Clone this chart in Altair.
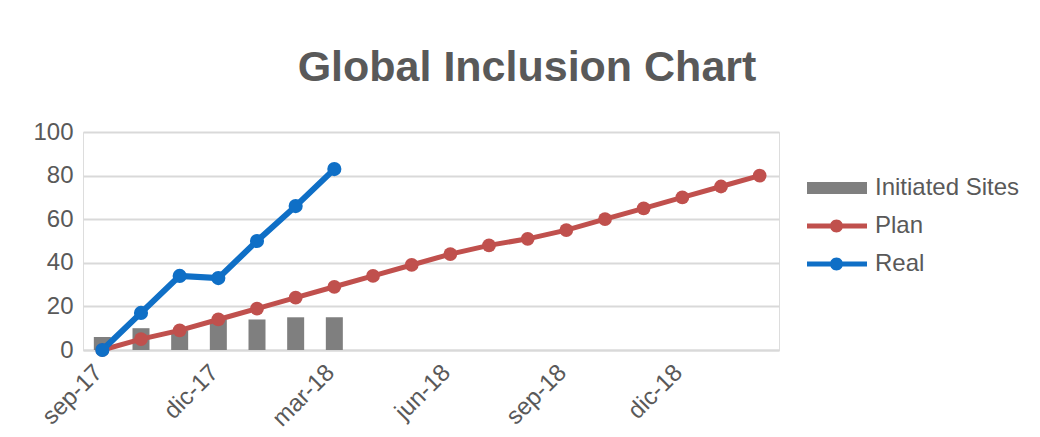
import altair as alt
import pandas as pd

months = ["sep-17", "oct-17", "nov-17", "dic-17", "ene-18", "feb-18", "mar-18",
          "abr-18", "may-18", "jun-18", "jul-18", "ago-18", "sep-18", "oct-18",
          "nov-18", "dic-18", "ene-19", "feb-19"]
plan = [0, 5, 9, 14, 19, 24, 29, 34, 39, 44, 48, 51, 55, 60, 65, 70, 75, 80]
real = [0, 17, 34, 33, 50, 66, 83]
sites = [6, 10, 9, 14, 14, 15, 15]
shown_labels = ["sep-17", "dic-17", "mar-18", "jun-18", "sep-18", "dic-18"]
series = ["Initiated Sites", "Plan", "Real"]
colors = ["#7f7f7f", "#c0504d", "#0f6fc6"]

rows = []
for i, m in enumerate(months):
    rows.append({"month": m, "series": "Plan", "value": plan[i]})
for i, v in enumerate(real):
    rows.append({"month": months[i], "series": "Real", "value": v})
for i, v in enumerate(sites):
    rows.append({"month": months[i], "series": "Initiated Sites", "value": v})
df = pd.DataFrame(rows)

label_expr = "indexof(" + str(shown_labels) + ", datum.value) >= 0 ? datum.value : ''"

x_enc = alt.X("month:N", sort=months, scale=alt.Scale(domain=months, paddingInner=0, paddingOuter=0),
              axis=alt.Axis(title=None, labelAngle=-45, labelExpr=label_expr, ticks=False,
                            labelAlign="right", labelBaseline="top", labelOffset=-12,
                            domain=True, domainColor="#d9d9d9", domainWidth=2,
                            labelFontSize=24, labelColor="#595959", labelPadding=10,
                            labelFont="Liberation Sans"))
y_enc = alt.Y("value:Q", scale=alt.Scale(domain=[0, 100]),
              axis=alt.Axis(title=None, values=[0, 20, 40, 60, 80, 100], domain=False, ticks=False,
                            gridColor="#d9d9d9", gridWidth=2, labelFontSize=24,
                            labelColor="#595959", labelPadding=10, labelFont="Liberation Sans"))

bar_shape = "M-5,-0.6H1V0.6H-5Z"
line_shape = ("M-5,-0.25H1V0.25H-5Z"
              "M-2.7,0A0.65,0.65 0 1,1 -1.4,0A0.65,0.65 0 1,1 -2.7,0Z")
shape_expr = "datum.value == 'Initiated Sites' ? '" + bar_shape + "' : '" + line_shape + "'"

color_enc = alt.Color("series:N", scale=alt.Scale(domain=series, range=colors),
                      legend=alt.Legend(title=None, orient="none", legendX=762, legendY=44,
                                        symbolSize=400, symbolStrokeWidth=0, symbolOpacity=1,
                                        symbolType=alt.ExprRef(shape_expr),
                                        labelFontSize=24, labelColor="#595959",
                                        labelFont="Liberation Sans", labelOffset=6,
                                        rowPadding=14, padding=0))

base = alt.Chart(df).encode(x=x_enc, y=y_enc, color=color_enc)

bars = base.transform_filter(alt.datum.series == "Initiated Sites").mark_bar(size=17)
plan_line = base.transform_filter(alt.datum.series == "Plan").mark_line(
    strokeWidth=5, point=alt.OverlayMarkDef(filled=True, size=190, opacity=1))
real_line = base.transform_filter(alt.datum.series == "Real").mark_line(
    strokeWidth=6, point=alt.OverlayMarkDef(filled=True, size=200, opacity=1))

chart = alt.layer(bars, plan_line, real_line).properties(
    width=696, height=218,
    title=alt.Title("Global Inclusion Chart", fontSize=43, fontWeight="bold", color="#595959",
                    font="Liberation Sans", anchor="middle", dx=96, offset=30),
    autosize=alt.AutoSizeParams(type="none"),
    padding={"left": 83, "top": 132, "right": 261, "bottom": 87},
).configure_view(stroke=None).configure(background="white")

chart.save("out.html", embed_options={"renderer": "svg", "actions": False})
